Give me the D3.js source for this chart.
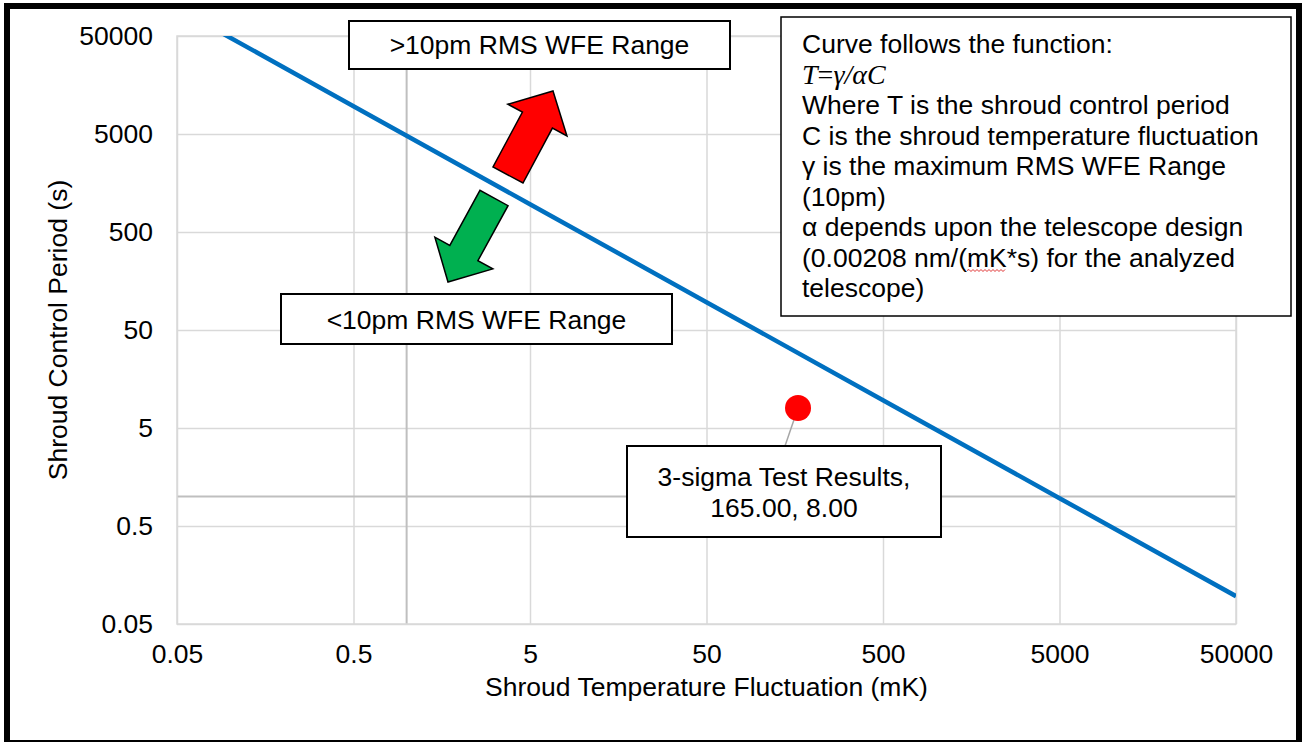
<!DOCTYPE html>
<html>
<head>
<meta charset="utf-8">
<script src="https://cdn.jsdelivr.net/npm/d3@7"></script>
<style>
  body { margin: 0; background: #fff; }
  svg { display: block; font-family: Arial, "Liberation Sans", sans-serif; }
</style>
</head>
<body>
<svg width="1310" height="742"></svg>
<script>
// data
const tempTicks = [0.05, 0.5, 5, 50, 500, 5000, 50000];
const periodTicks = [0.05, 0.5, 5, 50, 500, 5000, 50000];
const curveTemp = [0.05, 0.5, 5, 50, 500, 5000, 50000];
const curvePeriod = [96150, 9615, 961.5, 96.15, 9.615, 0.9615, 0.09615];
const testTemp = [165];
const testPeriod = [8];
const testLabel = ['3-sigma Test Results,', '165.00, 8.00'];
const infoLines = [
  'Curve follows the function:',
  'FORMULA',
  'Where T is the shroud control period',
  'C is the shroud temperature fluctuation',
  'γ is the maximum RMS WFE Range',
  '(10pm)',
  'α depends upon the telescope design',
  '(0.00208 nm/(mK*s) for the analyzed',
  'telescope)'
];

const plotLeft = 177, plotRight = 1236, plotTop = 36, plotBottom = 624;
const fontSize = 26.5;
const gridColor = '#d9d9d9';

var svg = d3.select('svg');

var x = d3.scaleLog().domain([0.05, 50000]).range([plotLeft, plotRight]);
var y = d3.scaleLog().domain([0.05, 50000]).range([plotBottom, plotTop]);

// outer frame
svg.append('rect')
   .attr('x', 7).attr('y', 6).attr('width', 1292).attr('height', 737)
   .attr('fill', 'none').attr('stroke', '#000').attr('stroke-width', 6);

// grid
function styleGrid(g){
  g.select('.domain').remove();
  g.selectAll('.tick line').attr('stroke', gridColor).attr('stroke-width', 1.5);
}
svg.append('g')
   .attr('transform', 'translate(0,' + plotBottom + ')')
   .call(d3.axisBottom(x).tickValues(tempTicks).tickSize(-(plotBottom - plotTop)).tickFormat(''))
   .call(styleGrid);
svg.append('g')
   .attr('transform', 'translate(' + plotLeft + ',0)')
   .call(d3.axisLeft(y).tickValues(periodTicks).tickSize(-(plotRight - plotLeft)).tickFormat(''))
   .call(styleGrid);

// axes cross at 1 (excel draws them as darker grey lines)
svg.append('line')
   .attr('x1', x(1)).attr('x2', x(1)).attr('y1', plotTop).attr('y2', plotBottom)
   .attr('stroke', '#bfbfbf').attr('stroke-width', 2);
svg.append('line')
   .attr('x1', plotLeft).attr('x2', plotRight).attr('y1', y(1)).attr('y2', y(1))
   .attr('stroke', '#bfbfbf').attr('stroke-width', 2);

svg.append('rect')
   .attr('x', plotLeft).attr('y', plotTop)
   .attr('width', plotRight - plotLeft).attr('height', plotBottom - plotTop)
   .attr('fill', 'none').attr('stroke', gridColor).attr('stroke-width', 1.5);

// tick labels
function styleLabels(g){
  g.select('.domain').remove();
  g.selectAll('.tick line').remove();
  g.selectAll('.tick text').attr('font-size', fontSize).attr('fill', '#000')
   .attr('font-family', 'Arial, "Liberation Sans", sans-serif');
}
svg.append('g')
   .attr('transform', 'translate(0,' + plotBottom + ')')
   .call(d3.axisBottom(x).tickValues(tempTicks).tickSize(0).tickPadding(20).tickFormat(d => String(d)))
   .call(styleLabels);
svg.append('g')
   .attr('transform', 'translate(' + plotLeft + ',0)')
   .call(d3.axisLeft(y).tickValues(periodTicks).tickSize(0).tickPadding(24).tickFormat(d => String(d)))
   .call(styleLabels);

// axis titles
svg.append('text')
   .attr('x', (plotLeft + plotRight) / 2).attr('y', 696)
   .attr('text-anchor', 'middle').attr('font-size', fontSize)
   .text('Shroud Temperature Fluctuation (mK)');
svg.append('text')
   .attr('transform', 'translate(67,' + (plotTop + plotBottom) / 2 + ') rotate(-90)')
   .attr('text-anchor', 'middle').attr('font-size', fontSize)
   .text('Shroud Control Period (s)');

// curve
svg.append('clipPath').attr('id', 'plotClip')
   .append('rect')
   .attr('x', plotLeft).attr('y', plotTop)
   .attr('width', plotRight - plotLeft).attr('height', plotBottom - plotTop);

var curve = curveTemp.map((t, i) => ({t: t, p: curvePeriod[i]}));
var line = d3.line().x(d => x(d.t)).y(d => y(d.p));
svg.append('path')
   .datum(curve)
   .attr('clip-path', 'url(#plotClip)')
   .attr('d', line)
   .attr('fill', 'none')
   .attr('stroke', '#0070c0')
   .attr('stroke-width', 4.5);

// block arrows
function blockArrow(base, tip, shaftW, headW, headL, fill){
  let dx = tip[0] - base[0], dy = tip[1] - base[1];
  let len = Math.sqrt(dx*dx + dy*dy);
  let ux = dx/len, uy = dy/len, nx = -uy, ny = ux;
  let hb = [tip[0] - ux*headL, tip[1] - uy*headL];
  let pts = [
    tip,
    [hb[0] + nx*headW/2, hb[1] + ny*headW/2],
    [hb[0] + nx*shaftW/2, hb[1] + ny*shaftW/2],
    [base[0] + nx*shaftW/2, base[1] + ny*shaftW/2],
    [base[0] - nx*shaftW/2, base[1] - ny*shaftW/2],
    [hb[0] - nx*shaftW/2, hb[1] - ny*shaftW/2],
    [hb[0] - nx*headW/2, hb[1] - ny*headW/2]
  ];
  svg.append('path')
     .attr('d', 'M' + pts.map(p => p.join(',')).join('L') + 'Z')
     .attr('fill', fill)
     .attr('stroke', '#000')
     .attr('stroke-width', 1.5)
     .attr('stroke-linejoin', 'miter');
}
blockArrow([508, 175], [553, 91], 34, 67, 33, '#ff0000');
blockArrow([494, 198], [448, 282], 32, 66, 33, '#00b050');

// label boxes
function labelBox(x0, y0, w, h, lines, baseline, lineH){
  svg.append('rect')
     .attr('x', x0).attr('y', y0).attr('width', w).attr('height', h)
     .attr('fill', '#fff').attr('stroke', '#000').attr('stroke-width', 2);
  lines.forEach((s, i) => {
    svg.append('text')
       .attr('x', x0 + w/2).attr('y', baseline + i*lineH)
       .attr('text-anchor', 'middle').attr('font-size', fontSize)
       .text(s);
  });
}
labelBox(349, 21, 381, 48, ['>10pm RMS WFE Range'], 54, 0);
labelBox(281, 294, 391, 50, ['<10pm RMS WFE Range'], 329, 0);

// test result point with its leader line and label
svg.append('line')
   .attr('x1', x(testTemp[0])).attr('y1', y(testPeriod[0]))
   .attr('x2', 785).attr('y2', 446)
   .attr('stroke', '#a6a6a6').attr('stroke-width', 1.5);
labelBox(627, 446, 314, 91, testLabel, 486, 31);
svg.selectAll('.pt')
   .data(testTemp.map((t, i) => ({t: t, p: testPeriod[i]})))
   .enter().append('circle')
   .attr('class', 'pt')
   .attr('cx', d => x(d.t)).attr('cy', d => y(d.p))
   .attr('r', 13)
   .attr('fill', '#ff0000');

// info box
svg.append('rect')
   .attr('x', 781).attr('y', 17).attr('width', 510).attr('height', 299)
   .attr('fill', '#fff').attr('stroke', '#000').attr('stroke-width', 1.5);
infoLines.forEach((s, i) => {
  let ty = 53 + i*30.5;
  let t = svg.append('text').attr('x', 802).attr('y', ty).attr('font-size', fontSize);
  if(s == 'FORMULA'){
    t.attr('font-family', '"Liberation Serif", "DejaVu Serif", serif').attr('font-size', 28);
    t.append('tspan').attr('font-style', 'italic').text('T');
    t.append('tspan').text('=');
    t.append('tspan').attr('font-style', 'italic').text('γ/αC');
  }else{
    t.text(s);
  }
  let k = s.indexOf('mK');
  if(k >= 0){
    let node = t.node();
    let sx = 802 + node.getSubStringLength(0, k);
    let ex = sx + node.getSubStringLength(k, 2);
    let d = 'M' + sx + ',' + (ty + 4);
    for(let px = sx + 2, up = true; px <= ex; px += 2, up = !up){
      d += 'L' + px + ',' + (ty + (up ? 3 : 5));
    }
    svg.append('path').attr('d', d).attr('fill', 'none')
       .attr('stroke', '#e03030').attr('stroke-width', 1);
  }
});
</script>
</body>
</html>
